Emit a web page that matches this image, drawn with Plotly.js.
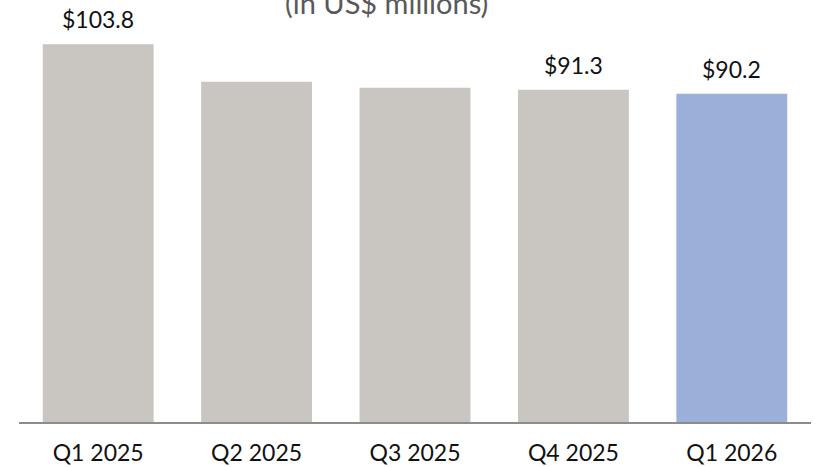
<!DOCTYPE html>
<html>
<head>
<meta charset="utf-8">
<script src="https://cdn.plot.ly/plotly-3.0.1.min.js"></script>
<style>html,body{margin:0;padding:0;background:#fff;}#chart{width:815px;height:467px;}</style>
</head>
<body>
<div id="chart"></div>
<script>
const categories = ["Q1 2025", "Q2 2025", "Q3 2025", "Q4 2025", "Q1 2026"];
const values = [103.8, 93.5, 91.8, 91.3, 90.2];
const valueLabels = ["$103.8", "", "", "$91.3", "$90.2"];
const barColors = ["#C9C6C1", "#C9C6C1", "#C9C6C1", "#C9C6C1", "#9BB0D9"];
const subtitle = "(in US$ millions)";

const font = "Lato, 'Open Sans', sans-serif";

const annotations = categories.map((c, i) => ({
  x: c, y: values[i], xref: "x", yref: "y",
  text: valueLabels[i], showarrow: false,
  yanchor: "middle", yshift: 25,
  font: {family: font, size: 23, color: "#111"}
})).filter(a => a.text !== "");

annotations.push({
  xref: "paper", yref: "paper", x: 0.4646, y: 1, xanchor: "center", yanchor: "bottom",
  yshift: -2, text: subtitle, showarrow: false,
  font: {family: font, size: 29, color: "#595959"}
});

Plotly.newPlot("chart", [{
  type: "bar", x: categories, y: values,
  marker: {color: barColors},
  hoverinfo: "none"
}], {
  width: 815, height: 467,
  margin: {l: 19, r: 4, t: 20, b: 45, pad: 0},
  paper_bgcolor: "#fff", plot_bgcolor: "#fff",
  bargap: 0.30,
  showlegend: false,
  xaxis: {
    type: "category", range: [-0.5, 4.5],
    showline: true, linecolor: "#8c8c8c", linewidth: 1.5,
    ticks: "", showgrid: false, zeroline: false,
    tickfont: {family: font, size: 23, color: "#111"},
    ticklabelstandoff: 10
  },
  yaxis: {
    range: [0, 110.44], visible: false, showgrid: false, zeroline: false
  },
  annotations: annotations
}, {staticPlot: true});
</script>
</body>
</html>
